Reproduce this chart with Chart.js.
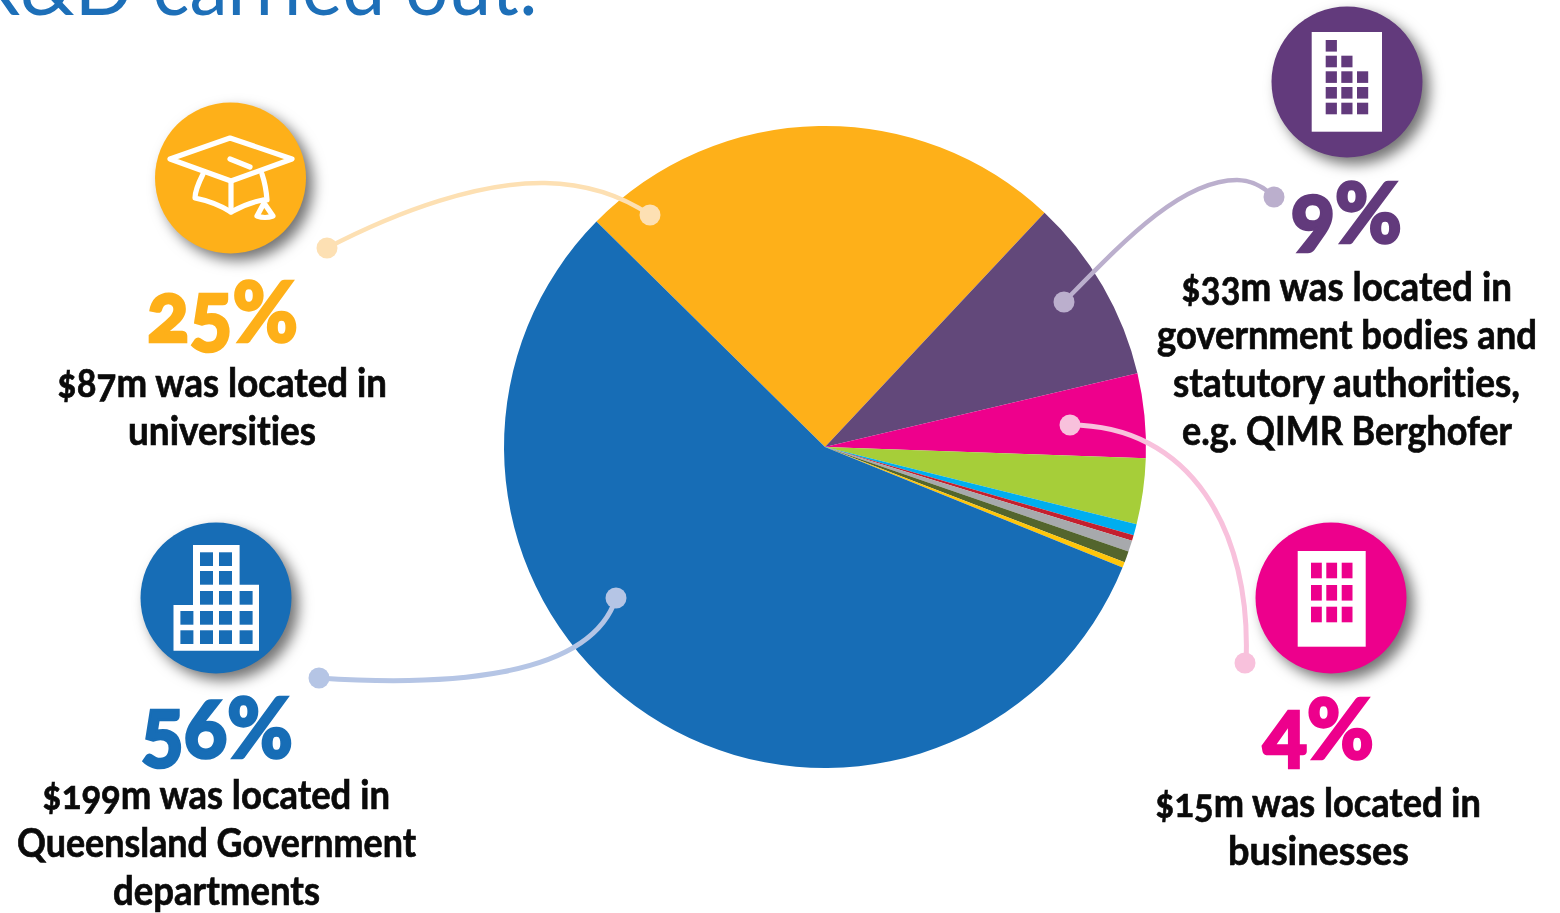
<!DOCTYPE html>
<html lang="en">
<head>
<meta charset="utf-8">
<title>R&amp;D carried out</title>
<script src="https://cdn.jsdelivr.net/npm/chart.js@4"></script>
<style>
  html, body { margin: 0; padding: 0; background: #fff; overflow: hidden; }
  #stage { position: relative; width: 1560px; height: 913px; overflow: hidden; }
  #pie, #overlay { position: absolute; left: 0; top: 0; }
  #overlay text { font-family: Lato, "Open Sans", sans-serif; font-variant-numeric: oldstyle-nums; font-variant-ligatures: none; text-anchor: start; }
  .line { font-size: 40px; font-weight: 700; fill: #0a0a0a; stroke: #0a0a0a; stroke-width: .7px; }
  .pct { font-size: 84px; font-weight: 900; stroke-width: 2.6px; }
  .title { font-size: 80px; font-weight: 400; fill: #1d6fb8; }
  .disc { filter: drop-shadow(7px 7px 7px rgba(0,0,0,.55)); }
</style>
</head>
<body>
<div id="stage">
  <canvas id="pie" width="1560" height="913"></canvas>
  <svg id="overlay" width="1560" height="913" viewBox="0 0 1560 913" xmlns="http://www.w3.org/2000/svg"></svg>
</div>
<script>
// Location of R&D spending, $ million, clockwise from the universities slice
const sectors = ['Universities', 'Government bodies and statutory authorities', 'Businesses',
  'Other (green)', 'Other (cyan)', 'Other (red)', 'Other (grey)', 'Other (olive)', 'Other (yellow)',
  'Queensland Government departments'];
const spending = [87, 33, 15, 11.7, 2, 1, 2, 2, 1, 199];
const sliceColours = ['#FEB019', '#62487A', '#EE008C', '#A6CE39', '#00AEEF', '#C4202E', '#A7A9AC', '#53652D', '#FFC60B', '#176DB6'];

const percentLabels = ['25%', '9%', '4%', '56%'];
const calloutLines = [
  ['$87m was located in', 'universities'],
  ['$33m was located in', 'government bodies and', 'statutory authorities,', 'e.g. QIMR Berghofer'],
  ['$15m was located in', 'businesses'],
  ['$199m was located in', 'Queensland Government', 'departments']
];
const titleText = 'R&D carried out:';

new Chart(document.getElementById('pie'), {
  type: 'pie',
  data: {
    labels: sectors,
    datasets: [{ data: spending, backgroundColor: sliceColours, borderWidth: 0, hoverOffset: 0 }]
  },
  options: {
    responsive: false,
    animation: false,
    rotation: -45.4,
    layout: { padding: { left: 504, right: 414, top: 126, bottom: 145 } },
    plugins: { legend: { display: false }, tooltip: { enabled: false } }
  }
});

// Annotation layer: title, icon discs, leader lines and callout text
const NS = 'http://www.w3.org/2000/svg';
const svg = document.getElementById('overlay');
function el(tag, attrs, parent, text) {
  const n = document.createElementNS(NS, tag);
  for (const k in attrs) n.setAttribute(k, attrs[k]);
  if (text !== undefined) n.textContent = text;
  (parent || svg).appendChild(n);
  return n;
}
function fitted(str, x0, x1, baseline, cls, fill) {
  const a = { x: x0, y: baseline, class: cls, textLength: x1 - x0, lengthAdjust: 'spacingAndGlyphs' };
  if (fill) { a.fill = fill; a.stroke = fill; }
  el('text', a, svg, str);
}
function rects(list, fill, parent) {
  list.forEach(r => el('rect', { x: r[0], y: r[1], width: r[2], height: r[3], fill }, parent));
}

fitted(titleText, -28, 538, 15, 'title');

// Leader lines with a round terminal at each end
const leaders = [
  { c: '#FDE0B3', w: 4.5, d: 'M327 248 C400 210 480 182 545 183 C590 184 625 198 650 215', ends: [[327, 248], [650, 215]] },
  { c: '#BBAFCD', w: 4.5, d: 'M1064 302 C1120 245 1180 180 1237 180 C1252 180 1264 187 1274 197', ends: [[1064, 302], [1274, 197]] },
  { c: '#F8C1DC', w: 5, d: 'M1070 425 C1190 425 1252 530 1246 663', ends: [[1070, 425], [1245, 663]] },
  { c: '#B5C5E5', w: 5, d: 'M319 678 C440 686 590 680 616 598', ends: [[319, 678], [616, 598]] }
];
leaders.forEach(l => {
  el('path', { d: l.d, fill: 'none', stroke: l.c, 'stroke-width': l.w });
  l.ends.forEach(p => el('circle', { cx: p[0], cy: p[1], r: 10.5, fill: l.c }));
});

// Discs
const R = 75.5;
[[230.5, 178, '#FEB019'], [1347, 82, '#623A7C'], [1331, 598, '#ED008C'], [216, 598, '#176DB6']]
  .forEach(d => el('circle', { cx: d[0], cy: d[1], r: R, fill: d[2], class: 'disc' }));

// Mortarboard icon
const cap = el('g', { fill: 'none', stroke: '#fff', 'stroke-width': 5.2, 'stroke-linejoin': 'round', 'stroke-linecap': 'round' });
el('path', { d: 'M170 159 L230 138 L292 159 L231 181 Z' }, cap);
el('path', { d: 'M230 159 L250 167' }, cap);
el('path', { d: 'M203 174 Q195 190 195 198 Q215 202 231 212 Q247 203 263 200' }, cap);
el('path', { d: 'M231 181 L231 212' }, cap);
el('path', { d: 'M262 174 Q266 186 267 200' }, cap);
el('path', { d: 'M264 203 L257 216 Q265 219 273 216 Z' }, cap);

// Stepped tower in the purple disc
rects([[1311.7, 32, 70.3, 99.7]], '#fff');
const px = [1325.7, 1341.3, 1357], py = [40, 55.7, 71.3, 87, 102.7];
[[0], [0, 1], [0, 1, 2], [0, 1, 2], [0, 1, 2]].forEach((cols, r) =>
  cols.forEach(c => rects([[px[c], py[r], 11.2, 11.6]], '#623A7C')));

// Office block in the pink disc
rects([[1297.7, 551, 68, 95.7]], '#fff');
[1311, 1326.3, 1341.7].forEach(x => [562.7, 585, 606.7].forEach(y =>
  rects([[x, y, 10.8, 15.6]], '#ED008C')));

// Tiered building in the blue disc
el('path', { d: 'M193 545 H239.6 V584.7 H259 V650.7 H173.5 V605 H193 Z', fill: '#fff' });
const bx = [180.4, 200, 219, 239.6], by = [552.3, 571, 591, 611, 630.3];
[[1, 2], [1, 2], [1, 2, 3], [0, 1, 2, 3], [0, 1, 2, 3]].forEach((cols, r) =>
  cols.forEach(c => rects([[bx[c], by[r], 13, 13.7]], '#176DB6')));

// Callout text, each line fitted to its measured extent
const pctPlace = [[147, 298, 342, '#FEB019'], [1291, 1402, 243, '#623A7C'], [1263, 1374, 759, '#ED008C'], [141, 293, 758, '#176DB6']];
const linePlace = [
  [[57, 387, 397], [128, 316, 445]],
  [[1181, 1512, 301], [1157, 1537, 349], [1173, 1520, 397], [1182, 1512, 445]],
  [[1155, 1481, 817], [1228, 1409, 865]],
  [[42, 390, 809], [17, 416, 857], [113, 320, 905]]
];
percentLabels.forEach((p, i) => {
  const q = pctPlace[i];
  fitted(p, q[0], q[1], q[2], 'pct', q[3]);
  calloutLines[i].forEach((s, j) => {
    const m = linePlace[i][j];
    fitted(s, m[0], m[1], m[2], 'line');
  });
});
</script>
</body>
</html>
